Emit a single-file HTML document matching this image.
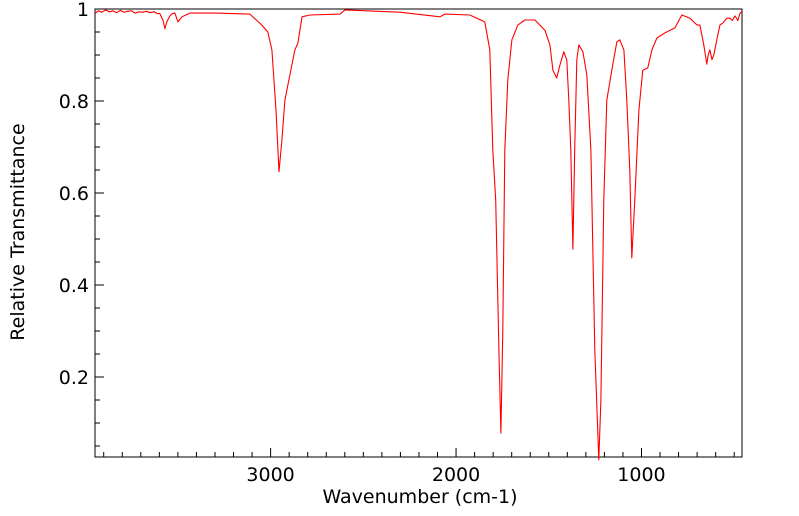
<!DOCTYPE html>
<html><head><meta charset="utf-8">
<style>
html,body{margin:0;padding:0;background:#fff;}
svg{display:block;font-family:"DejaVu Sans","Liberation Sans",sans-serif;}
</style></head>
<body>
<svg id="chart" width="799" height="516">
<g id="axes"></g>
<g id="plot"></g>
<text x="420" y="503" font-size="19" text-anchor="middle">Wavenumber (cm-1)</text>
<text transform="translate(24,232) rotate(-90)" font-size="19" text-anchor="middle">Relative Transmittance</text>
</svg>
<script>
const wavenumbers = [3947,3930,3910,3890,3870,3850,3830,3810,3790,3770,3750,3730,3710,3690,3670,3650,3630,3610,3597,3580,3570,3560,3543,3530,3516,3500,3478,3435,3300,3112,3047,3015,2993,2971,2955,2939,2923,2896,2869,2853,2831,2788,2626,2599,2303,2087,2060,1926,1845,1818,1802,1786,1769,1758,1748,1737,1721,1699,1667,1629,1575,1521,1494,1478,1457,1440,1419,1403,1392,1381,1370,1360,1349,1338,1316,1295,1273,1252,1230,1219,1203,1187,1160,1133,1117,1095,1079,1063,1052,1036,1014,993,966,944,917,874,820,782,739,700,685,664,648,640,631,620,610,594,577,560,540,523,510,496,480,470,458];
const transmittance = [0.99,0.996,0.993,0.998,0.994,0.996,0.992,0.997,0.993,0.995,0.996,0.991,0.994,0.993,0.995,0.992,0.994,0.99,0.99,0.975,0.957,0.972,0.985,0.99,0.991,0.972,0.983,0.991,0.991,0.989,0.965,0.95,0.911,0.78,0.646,0.715,0.802,0.857,0.911,0.926,0.983,0.987,0.989,0.998,0.993,0.983,0.989,0.987,0.972,0.911,0.693,0.585,0.259,0.078,0.302,0.693,0.846,0.933,0.965,0.976,0.976,0.954,0.922,0.867,0.85,0.878,0.907,0.889,0.802,0.693,0.478,0.693,0.889,0.922,0.907,0.857,0.693,0.259,0.02,0.15,0.585,0.802,0.867,0.928,0.933,0.911,0.802,0.65,0.459,0.585,0.78,0.867,0.872,0.911,0.937,0.948,0.959,0.987,0.98,0.965,0.965,0.922,0.88,0.9,0.911,0.89,0.9,0.933,0.965,0.97,0.98,0.98,0.975,0.985,0.975,0.99,0.995];
const xTicks = [3000,2000,1000];
const yTicks = [0.2,0.4,0.6,0.8,1];
const yTickLabels = ["0.2","0.4","0.6","0.8","1"];

const L=95,R=742,T=9,B=457;
const wnLeft=3947,wnRight=458;
const xs=w=>L+(wnLeft-w)/(wnLeft-wnRight)*(R-L);
const ys=v=>T+(1-v)*460;
const NS="http://www.w3.org/2000/svg";
const axes=document.getElementById('axes'), plot=document.getElementById('plot');
function mk(tag,attrs,parent){const e=document.createElementNS(NS,tag);for(const k in attrs)e.setAttribute(k,attrs[k]);parent.appendChild(e);return e;}

const frame=mk('rect',{x:L,y:T,width:R-L,height:B-T,fill:'none',stroke:'#000','stroke-width':1},axes);



for(let w=3900;w>=500;w-=100){
  const x=xs(w);const major=w%1000===0;
  const t=mk('line',{x1:x,x2:x,y1:B,y2:B-(major?9:5),stroke:'#000','stroke-width':1},axes);
  
  
}
xTicks.forEach(w=>{
  const t=mk('text',{x:xs(w),y:481,'font-size':19,'text-anchor':'middle'},axes);
  t.textContent=String(w);
  
  
});
for(let i=1;i<=19;i++){
  const v=i*0.05;const y=ys(v);const major=i%4===0;
  const t=mk('line',{x1:L,x2:L+(major?9:5),y1:y,y2:y,stroke:'#000','stroke-width':1},axes);
  
  
}
yTicks.forEach((v,i)=>{
  const t=mk('text',{x:L-6,y:ys(v)+7,'font-size':19,'text-anchor':'end'},axes);
  t.textContent=yTickLabels[i];
  
  
});

const d=wavenumbers.map((w,i)=>(i?'L':'M')+xs(w).toFixed(1)+','+ys(transmittance[i]).toFixed(1)).join(' ');
const p=mk('path',{d:d,fill:'none',stroke:'#ff0000','stroke-width':1.1,'stroke-linejoin':'round'},plot);


</script>
</body></html>
